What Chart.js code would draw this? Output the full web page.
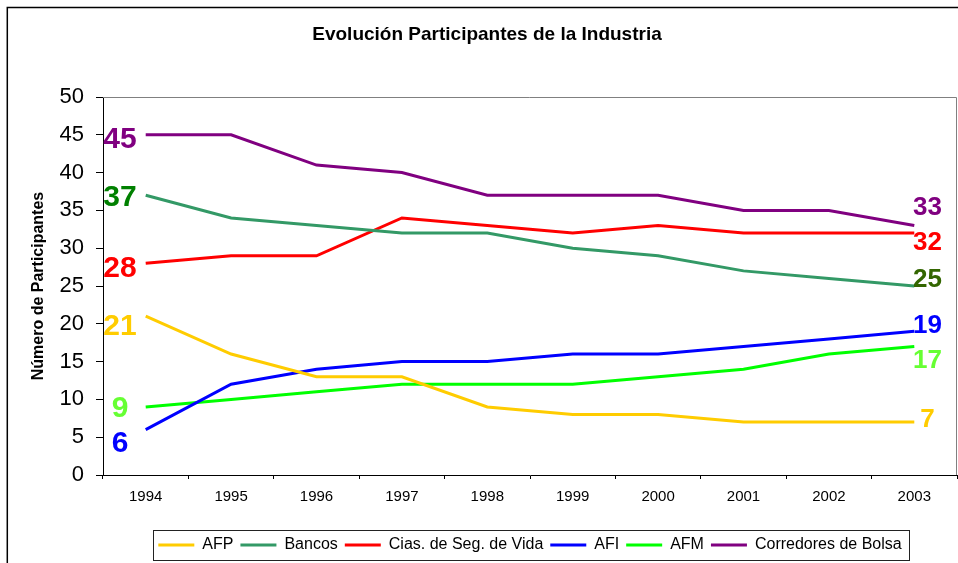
<!DOCTYPE html>
<html>
<head>
<meta charset="utf-8">
<script src="https://cdn.jsdelivr.net/npm/chart.js@4.4.1/dist/chart.umd.min.js"></script>
<style>
html,body{margin:0;padding:0;background:#fff;}
canvas{display:block;}
</style>
</head>
<body>
<canvas id="c" width="958" height="563"></canvas>
<script>
// ---- data ----
const years = ['1994','1995','1996','1997','1998','1999','2000','2001','2002','2003'];
const afp        = [21, 16, 13, 13,  9,  8,  8,  7,  7,  7];
const bancos     = [37, 34, 33, 32, 32, 30, 29, 27, 26, 25];
const ciasVida   = [28, 29, 29, 34, 33, 32, 33, 32, 32, 32];
const afi        = [ 6, 12, 14, 15, 15, 16, 16, 17, 18, 19];
const afm        = [ 9, 10, 11, 12, 12, 12, 13, 14, 16, 17];
const corredores = [45, 45, 41, 40, 37, 37, 37, 35, 35, 33];
const seriesNames = ['AFP', 'Bancos', 'Cias. de Seg. de Vida', 'AFI', 'AFM', 'Corredores de Bolsa'];
const yTicks = [0, 5, 10, 15, 20, 25, 30, 35, 40, 45, 50];
const chartTitle = 'Evolución Participantes de la Industria';
const yTitle = 'Número de Participantes';

// ---- styles ----
const FONT = '"Liberation Sans", Arial, Helvetica, sans-serif';
const lineColors = ['#FFCC00', '#339966', '#FF0000', '#0000FF', '#00FF00', '#800080'];
// end-value label styles: colour and baseline offset (px) relative to the first/last point
const labelStyles = [
  {startColor: '#FFCC00', startDy: 18.8, endColor: '#FFCC00', endDy: 4.6},
  {startColor: '#008000', startDy: 10.7, endColor: '#336600', endDy: 0.7},
  {startColor: '#FF0000', startDy: 13.4, endColor: '#FF0000', endDy: 17},
  {startColor: '#0000FF', startDy: 22,   endColor: '#0000FF', endDy: 2},
  {startColor: '#66FF33', startDy: 9.7,  endColor: '#66FF33', endDy: 21.8},
  {startColor: '#800080', startDy: 13.5, endColor: '#800080', endDy: -10.5}
];
const startDx = -25.7, endDx = 13.2;

const seriesData = [afp, bancos, ciasVida, afi, afm, corredores];

const framePlugin = {
  id: 'frame',
  beforeDraw(chart) {
    const ctx = chart.ctx;
    ctx.save();
    ctx.fillStyle = '#fff';
    ctx.fillRect(0, 0, chart.width, chart.height);
    ctx.strokeStyle = '#000';
    ctx.lineWidth = 1.5;
    ctx.beginPath();
    ctx.moveTo(7.3, chart.height + 5);
    ctx.lineTo(7.3, 7.6);
    ctx.lineTo(chart.width + 5, 7.6);
    ctx.stroke();
    ctx.restore();
  },
  beforeDatasetsDraw(chart) {
    const {ctx, chartArea: a} = chart;
    ctx.save();
    ctx.strokeStyle = '#808080';
    ctx.lineWidth = 1;
    ctx.beginPath();
    ctx.moveTo(a.left, Math.round(a.top) + 0.5);
    ctx.lineTo(Math.round(a.right) - 0.5, Math.round(a.top) + 0.5);
    ctx.lineTo(Math.round(a.right) - 0.5, a.bottom);
    ctx.stroke();
    ctx.restore();
  },
  afterDraw(chart) {
    const lg = chart.legend;
    if (!lg || !lg.legendHitBoxes || !lg.legendHitBoxes.length) return;
    const hb = lg.legendHitBoxes;
    let l = Infinity, r = -Infinity, t = Infinity, b = -Infinity;
    hb.forEach(h => {
      l = Math.min(l, h.left); r = Math.max(r, h.left + h.width);
      t = Math.min(t, h.top); b = Math.max(b, h.top + h.height);
    });
    const ctx = chart.ctx;
    ctx.save();
    ctx.strokeStyle = '#222';
    ctx.lineWidth = 1;
    ctx.strokeRect(Math.round(l - 5) + 0.5, Math.round(t - 7) + 0.5, Math.round(r - l + 13), Math.round(b - t + 14));
    ctx.restore();
  }
};

const endLabelsPlugin = {
  id: 'endLabels',
  afterDatasetsDraw(chart) {
    const ctx = chart.ctx;
    ctx.save();
    ctx.textAlign = 'center';
    ctx.textBaseline = 'alphabetic';
    chart.data.datasets.forEach((ds, i) => {
      const meta = chart.getDatasetMeta(i);
      const st = labelStyles[i];
      const p0 = meta.data[0];
      const pn = meta.data[meta.data.length - 1];
      ctx.font = 'bold 30px ' + FONT;
      ctx.fillStyle = st.startColor;
      ctx.fillText(String(ds.data[0]), p0.x + startDx, p0.y + st.startDy);
      ctx.font = 'bold 26px ' + FONT;
      ctx.fillStyle = st.endColor;
      ctx.fillText(String(ds.data[ds.data.length - 1]), pn.x + endDx, pn.y + st.endDy);
    });
    ctx.restore();
  }
};

new Chart(document.getElementById('c'), {
  type: 'line',
  data: {
    labels: years,
    datasets: seriesNames.map((name, i) => ({
      label: name,
      data: seriesData[i],
      borderColor: lineColors[i],
      backgroundColor: lineColors[i],
      borderWidth: 3,
      pointRadius: 0,
      pointHoverRadius: 0,
      tension: 0,
      fill: false
    }))
  },
  options: {
    responsive: false,
    animation: false,
    devicePixelRatio: 1,
    layout: {padding: {left: 17, right: 1, top: 0, bottom: 0}},
    plugins: {
      title: {
        display: true,
        text: chartTitle,
        color: '#000',
        font: {family: FONT, size: 19, weight: 'bold', lineHeight: 1.2},
        padding: {top: 23.6, bottom: 50.6}
      },
      legend: {
        position: 'bottom',
        fullSize: false,
        align: 'center',
        labels: {
          usePointStyle: true,
          pointStyle: 'line',
          pointStyleWidth: 36,
          color: '#000',
          font: {family: FONT, size: 16},
          padding: 7
        }
      },
      tooltip: {enabled: false}
    },
    scales: {
      x: {
        offset: true,
        grid: {offset: true, drawOnChartArea: false, tickLength: 4, color: '#000', lineWidth: 1},
        border: {color: '#000', width: 1},
        ticks: {color: '#000', font: {family: FONT, size: 15}, padding: 9, maxRotation: 0, autoSkip: false},
        afterFit(s) { s.height = 55; }
      },
      y: {
        min: 0,
        max: 50,
        afterBuildTicks(s) { s.ticks = yTicks.map(v => ({value: v})); },
        grid: {drawOnChartArea: false, tickLength: 7, color: '#000', lineWidth: 1},
        border: {color: '#000', width: 1},
        ticks: {color: '#000', font: {family: FONT, size: 22}, padding: 12},
        title: {
          display: true,
          text: yTitle,
          color: '#000',
          font: {family: FONT, size: 16, weight: 'bold', lineHeight: 1.2},
          padding: {top: 11.9, bottom: 0}
        },
        afterFit(s) { s.width = 86; }
      }
    }
  },
  plugins: [framePlugin, endLabelsPlugin]
});
</script>
</body>
</html>
